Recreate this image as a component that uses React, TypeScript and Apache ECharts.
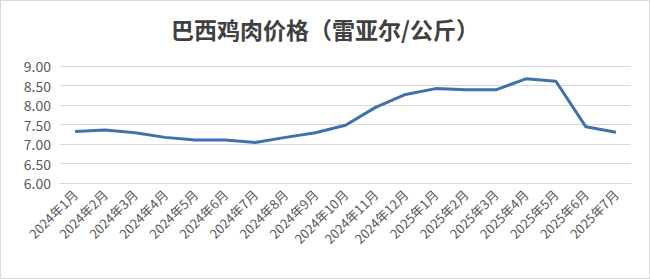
import React, { useEffect, useRef } from "react";
import * as echarts from "echarts";

const titleText = "巴西鸡肉价格（雷亚尔/公斤）";
const categories = [
  "2024年1月", "2024年2月", "2024年3月", "2024年4月", "2024年5月", "2024年6月",
  "2024年7月", "2024年8月", "2024年9月", "2024年10月", "2024年11月", "2024年12月",
  "2025年1月", "2025年2月", "2025年3月", "2025年4月", "2025年5月", "2025年6月", "2025年7月",
];
const prices = [
  7.32, 7.36, 7.29, 7.17, 7.1, 7.1, 7.04, 7.17, 7.29, 7.48, 7.94, 8.27,
  8.42, 8.39, 8.39, 8.67, 8.61, 7.44, 7.3,
];
const yMin = 6;
const yMax = 9;
const yStep = 0.5;

export default function App() {
  const ref = useRef<HTMLDivElement>(null);
  useEffect(() => {
    document.body.style.margin = "0";
    if (!ref.current) return;
    const chart = echarts.init(ref.current, undefined, { renderer: "svg" });
    const font = "'Noto Sans CJK SC', 'Noto Sans', sans-serif";
    chart.setOption({
      animation: false,
      backgroundColor: "#ffffff",
      title: {
        text: titleText,
        left: "center",
        top: 11,
        textStyle: { fontFamily: font, fontSize: 23, fontWeight: "bold", color: "#404040" },
      },
      grid: { left: 59, right: 18, top: 65, bottom: 95, containLabel: false },
      xAxis: {
        type: "category",
        data: categories,
        boundaryGap: true,
        axisLine: { show: true, lineStyle: { color: "#d9d9d9" } },
        axisTick: { show: false },
        axisLabel: {
          interval: 0,
          rotate: 45,
          fontFamily: font,
          fontSize: 13,
          color: "#595959",
          margin: 9,
        },
      },
      yAxis: {
        type: "value",
        min: yMin,
        max: yMax,
        interval: yStep,
        axisLine: { show: false },
        axisTick: { show: false },
        splitLine: { lineStyle: { color: "#d9d9d9", width: 1 } },
        axisLabel: {
          formatter: (v: number) => v.toFixed(2),
          fontFamily: font,
          fontSize: 14,
          color: "#595959",
          margin: 9,
        },
      },
      series: [
        {
          type: "line",
          data: prices,
          symbol: "none",
          lineStyle: { color: "#3e72ad", width: 3 },
          itemStyle: { color: "#3e72ad" },
        },
      ],
    });
    return () => chart.dispose();
  }, []);
  return (
    <div
      style={{
        width: 648,
        height: 277,
        border: "1px solid #d9d9d9",
        background: "#fff",
      }}
    >
      <div ref={ref} style={{ width: 648, height: 277 }} />
    </div>
  );
}
